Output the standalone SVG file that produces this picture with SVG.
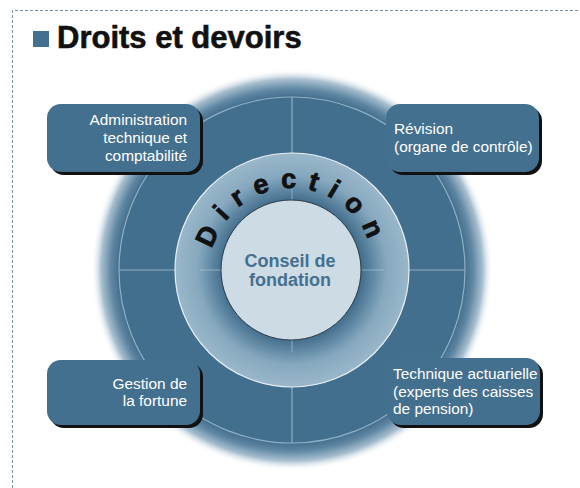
<svg xmlns="http://www.w3.org/2000/svg" width="580" height="488" viewBox="0 0 580 488">
<style>
.box{fill:#44708f;}
.shadow{fill:#111;}
.lbl{font-family:"Liberation Sans",Arial,sans-serif;font-size:15.4px;fill:#ffffff;}
.div{stroke:#8fb0c6;stroke-width:1.2;fill:none;}
</style>
<defs>
<radialGradient id="glow" cx="292" cy="270" r="201" gradientUnits="userSpaceOnUse">
<stop offset="0.855" stop-color="#3f6b8a"/>
<stop offset="0.9" stop-color="#5f87a3"/>
<stop offset="0.95" stop-color="#a9c0d0"/>
<stop offset="1" stop-color="#ffffff" stop-opacity="0"/>
</radialGradient>
<radialGradient id="ring" cx="292" cy="270" r="118" gradientUnits="userSpaceOnUse">
<stop offset="0.58" stop-color="#3f6b8a"/>
<stop offset="0.68" stop-color="#5f87a2"/>
<stop offset="0.8" stop-color="#86a8be"/>
<stop offset="1" stop-color="#9bb8cb"/>
</radialGradient>
<path id="arc" d="M210,270 A82,82 0 0 1 374,270"/>
</defs>
<rect width="580" height="488" fill="#ffffff"/>
<path d="M12.5,488 V10.5 H580" fill="none" stroke="#6f93a9" stroke-width="1" stroke-dasharray="3,2"/>
<g id="title">
<rect x="33" y="31" width="16" height="16" fill="#44708f"/>
<text x="57" y="48" font-family="'Liberation Sans',Arial,sans-serif" font-size="31" font-weight="bold" fill="#111" stroke="#111" stroke-width="0.6">Droits et devoirs</text>
</g>
<g id="wheel">
<circle cx="292" cy="270" r="201" fill="url(#glow)"/>
<circle cx="292" cy="270" r="173" fill="#426f8e" stroke="#8fb0c6" stroke-width="1.2"/>
</g>
<g id="dividers">
<line class="div" x1="292" y1="97" x2="292" y2="443"/>
<line class="div" x1="119" y1="270" x2="465" y2="270"/>
</g>
<g id="direction">
<circle cx="292" cy="270" r="117" fill="url(#ring)" stroke="#e8f0f5" stroke-width="1.2"/>
<g stroke="#a9c2d3" stroke-width="1" stroke-opacity="0.7">
<line x1="292" y1="189" x2="292" y2="200"/>
<line x1="200" y1="270" x2="222" y2="270"/>
<line x1="362" y1="270" x2="384" y2="270"/>
<line x1="292" y1="340" x2="292" y2="352"/>
</g>
<text font-family="'Liberation Sans',Arial,sans-serif" font-size="27" font-weight="bold" fill="#111" stroke="#111" stroke-width="0.8" letter-spacing="11"><textPath href="#arc" startOffset="21">Direction</textPath></text>
</g>
<g id="conseil">
<circle cx="291" cy="270" r="70" fill="#cddbe5" stroke="#2a3a46" stroke-width="1"/>
<text x="290" y="267" text-anchor="middle" font-family="'Liberation Sans',Arial,sans-serif" font-size="18" font-weight="bold" fill="#44708f">Conseil de</text>
<text x="290" y="286" text-anchor="middle" font-family="'Liberation Sans',Arial,sans-serif" font-size="18" font-weight="bold" fill="#44708f">fondation</text>
</g>
<g id="administration">
<rect class="shadow" x="50" y="107" width="153" height="68" rx="14"/>
<rect class="box" x="47" y="104" width="153" height="68" rx="14"/>
<text class="lbl" text-anchor="end"><tspan x="187" y="125">Administration</tspan><tspan x="187" y="143">technique et</tspan><tspan x="187" y="161">comptabilité</tspan></text>
</g>
<g id="revision">
<rect class="shadow" x="389" y="107" width="153" height="68" rx="14"/>
<rect class="box" x="386" y="104" width="153" height="68" rx="14"/>
<text class="lbl"><tspan x="394" y="134">Révision</tspan><tspan x="394" y="152">(organe de contrôle)</tspan></text>
</g>
<g id="fortune">
<rect class="shadow" x="50" y="363" width="153" height="65" rx="14"/>
<rect class="box" x="47" y="360" width="153" height="65" rx="14"/>
<text class="lbl" text-anchor="end"><tspan x="187" y="389">Gestion de</tspan><tspan x="187" y="406">la fortune</tspan></text>
</g>
<g id="actuarielle">
<rect class="shadow" x="390" y="361" width="153" height="67" rx="14"/>
<rect class="box" x="387" y="358" width="153" height="67" rx="14"/>
<text class="lbl"><tspan x="393" y="379">Technique actuarielle</tspan><tspan x="393" y="397">(experts des caisses</tspan><tspan x="393" y="414">de pension)</tspan></text>
</g>
</svg>
